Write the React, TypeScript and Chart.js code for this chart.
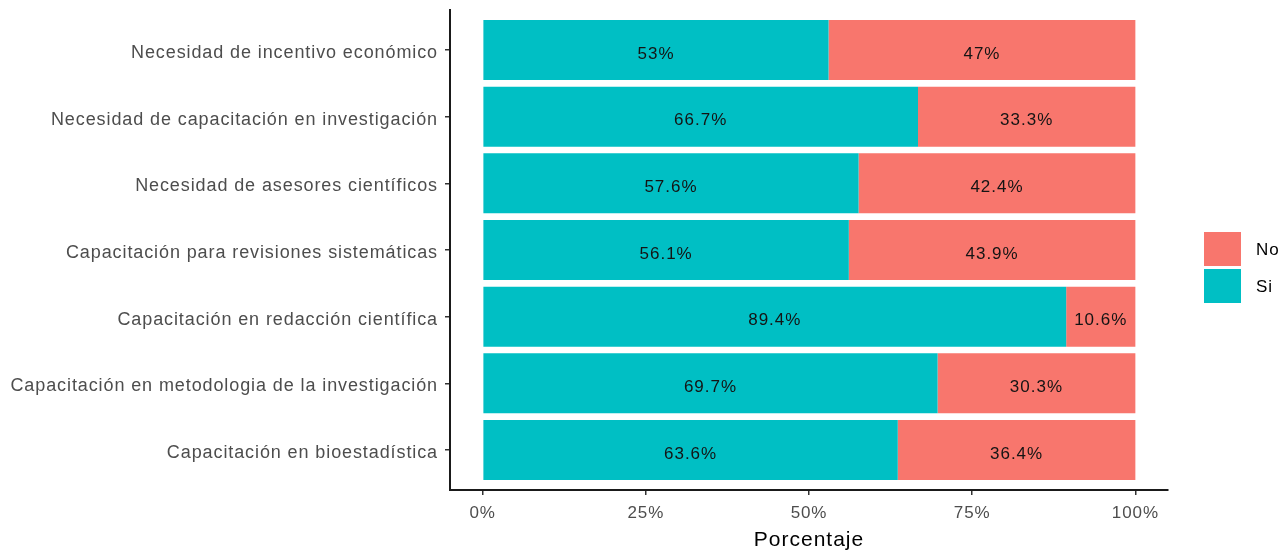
import React, { useEffect, useRef } from "react";
import { Chart, registerables } from "chart.js";

Chart.register(...registerables);

const categories = [
  "Necesidad de incentivo económico",
  "Necesidad de capacitación en investigación",
  "Necesidad de asesores científicos",
  "Capacitación para revisiones sistemáticas",
  "Capacitación en redacción científica",
  "Capacitación en metodologia de la investigación",
  "Capacitación en bioestadística",
];
const siValues = [53, 66.7, 57.6, 56.1, 89.4, 69.7, 63.6];
const noValues = [47, 33.3, 42.4, 43.9, 10.6, 30.3, 36.4];
const xTicks = [0, 25, 50, 75, 100];
const seriesNames = ["Si", "No"];
const legendOrder = ["No", "Si"];
const axisTitle = "Porcentaje";

const COLORS: Record<string, string> = { Si: "#00BFC4", No: "#F8766D" };
const FONT = "'Liberation Sans', Arial, sans-serif";

export default function App() {
  const ref = useRef<HTMLCanvasElement>(null);
  useEffect(() => {
    const canvas = ref.current;
    if (!canvas) return;

    const spacingPlugin = {
      id: "spacing",
      beforeDraw(chart: any) {
        chart.ctx.letterSpacing = "0.9px";
      },
      afterDraw(chart: any) {
        chart.ctx.letterSpacing = "0px";
      },
    };

    const labelPlugin = {
      id: "barLabels",
      afterDatasetsDraw(chart: any) {
        const ctx = chart.ctx;
        ctx.save();
        ctx.letterSpacing = "1px";
        ctx.font = `17px ${FONT}`;
        ctx.fillStyle = "#141414";
        ctx.textAlign = "center";
        ctx.textBaseline = "middle";
        chart.data.datasets.forEach((ds: any, di: number) => {
          const meta = chart.getDatasetMeta(di);
          meta.data.forEach((el: any, i: number) => {
            const v = ds.data[i].x;
            const cx = (el.x + el.base) / 2;
            ctx.fillText(`${v}%`, cx, el.y + 4);
          });
        });
        ctx.restore();
      },
    };

    const extrasPlugin = {
      id: "extras",
      afterDraw(chart: any) {
        const ctx = chart.ctx;
        const area = chart.chartArea;
        ctx.save();
        ctx.letterSpacing = "1px";
        ctx.font = `21px ${FONT}`;
        ctx.fillStyle = "#000";
        ctx.textAlign = "center";
        ctx.textBaseline = "alphabetic";
        ctx.fillText(axisTitle, (area.left + area.right) / 2, 546);
        const boxX = 1204;
        const boxW = 37;
        const boxH = 34;
        const startY = 232;
        legendOrder.forEach((name, i) => {
          const y = startY + i * (boxH + 3);
          ctx.fillStyle = COLORS[name];
          ctx.fillRect(boxX, y, boxW, boxH);
          ctx.fillStyle = "#000";
          ctx.font = `17px ${FONT}`;
          ctx.textAlign = "left";
          ctx.textBaseline = "middle";
          ctx.fillText(name, 1256, y + boxH / 2 + 1);
        });
        ctx.restore();
      },
    };

    const datasets = seriesNames.map((name) => {
      const vals = name === "Si" ? siValues : noValues;
      return {
        label: name,
        data: vals.map((v, i) => ({ x: v, y: i })),
        backgroundColor: COLORS[name],
        borderWidth: 0,
        barPercentage: 0.9,
        categoryPercentage: 1,
      };
    });

    const chart = new Chart(canvas, {
      type: "bar",
      data: { datasets } as any,
      plugins: [spacingPlugin, labelPlugin, extrasPlugin],
      options: {
        indexAxis: "y",
        animation: false,
        responsive: false,
        maintainAspectRatio: false,
        layout: { padding: { top: 10, right: 116, left: 0, bottom: 0 } },
        plugins: {
          legend: { display: false },
          tooltip: { enabled: false },
          title: { display: false },
        },
        scales: {
          x: {
            type: "linear",
            stacked: true,
            min: -5,
            max: 105,
            offset: false,
            afterBuildTicks(scale: any) {
              scale.ticks = xTicks.map((v) => ({ value: v }));
            },
            afterFit(scale: any) {
              scale.height = 62;
              scale.paddingLeft = 0;
              scale.paddingRight = 0;
            },
            ticks: {
              callback: (v: any) => `${v}%`,
              font: { family: FONT, size: 17 },
              color: "#4D4D4D",
              padding: 8,
              maxRotation: 0,
              autoSkip: false,
            },
            grid: {
              display: true,
              offset: false,
              drawOnChartArea: false,
              drawTicks: true,
              tickLength: 5,
              color: "#333333",
              lineWidth: 1.5,
            },
            border: { display: true, color: "#1a1a1a", width: 2 },
          },
          y: {
            type: "linear",
            stacked: true,
            reverse: true,
            min: -0.6,
            max: 6.6,
            offset: false,
            afterBuildTicks(scale: any) {
              scale.ticks = categories.map((_, i) => ({ value: i }));
            },
            afterFit(scale: any) {
              scale.width = 450;
              scale.paddingTop = 0;
              scale.paddingBottom = 0;
            },
            ticks: {
              callback: (v: any) => categories[v] ?? "",
              font: { family: FONT, size: 18 },
              color: "#4D4D4D",
              padding: 7,
              labelOffset: 3,
              autoSkip: false,
            },
            grid: {
              display: true,
              offset: false,
              drawOnChartArea: false,
              drawTicks: true,
              tickLength: 5,
              color: "#333333",
              lineWidth: 1.5,
            },
            border: { display: true, color: "#1a1a1a", width: 2 },
          },
        },
      } as any,
    });
    return () => chart.destroy();
  }, []);

  return (
    <div
      style={{
        position: "fixed",
        left: 0,
        top: 0,
        width: 1284,
        height: 552,
        background: "#fff",
      }}
    >
      <canvas ref={ref} width={1284} height={552} style={{ display: "block" }} />
    </div>
  );
}
